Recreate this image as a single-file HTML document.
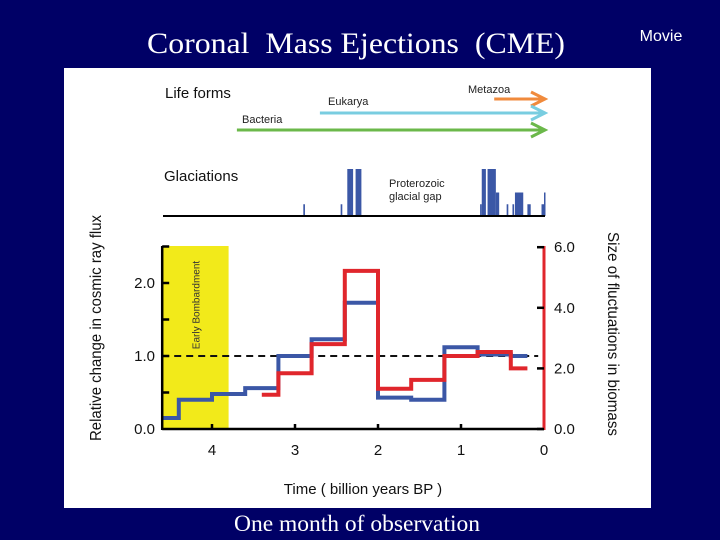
<!DOCTYPE html>
<html><head><meta charset="utf-8"><style>
html,body{margin:0;padding:0;background:#000066;width:720px;height:540px;overflow:hidden}
svg{display:block}
</style></head><body>
<svg width="720" height="540" viewBox="0 0 720 540" xmlns="http://www.w3.org/2000/svg">
<rect x="0" y="0" width="720" height="540" fill="#000066"/>
<text x="356" y="53" text-anchor="middle" xml:space="preserve" font-family="Liberation Serif, serif" font-size="30" fill="#fff" textLength="418" lengthAdjust="spacingAndGlyphs">Coronal  Mass Ejections  (CME)</text>
<text x="661" y="41" text-anchor="middle" font-family="Liberation Sans, sans-serif" font-size="16" fill="#fff">Movie</text>
<rect x="64" y="68" width="587" height="440" fill="#fff"/>
<text x="357" y="531" text-anchor="middle" font-family="Liberation Serif, serif" font-size="23.5" fill="#fff">One month of observation</text>
<g id="toppanel"></g>
<g id="chart"></g>
</svg>
<script>
// Time axis (billion years BP)
const xTicks = [4, 3, 2, 1, 0];
const leftTicks = ["0.0", "1.0", "2.0"];
const leftTickVals = [0, 1, 2];
const rightTickVals = [0, 2, 4, 6];
const rightTicks = ["0.0", "2.0", "4.0", "6.0"];
// Blue: relative change in cosmic ray flux (step edges and values)
const blueEdges = [4.6, 4.4, 4.0, 3.6, 3.2, 2.8, 2.4, 2.0, 1.6, 1.2, 0.8, 0.4, 0.2];
const blueVals = [0.15, 0.40, 0.48, 0.56, 1.0, 1.23, 1.73, 0.43, 0.40, 1.12, 1.02, 1.0];
// Red: size of fluctuations in biomass
const redEdges = [3.4, 3.2, 2.8, 2.4, 2.0, 1.6, 1.2, 0.8, 0.4, 0.2];
const redVals = [1.13, 1.84, 2.8, 5.22, 1.33, 1.62, 2.41, 2.54, 2.0];
// Life forms arrows: start time
const lifeNames = ["Metazoa", "Eukarya", "Bacteria"];
const lifeStarts = [0.6, 2.7, 3.7];
const lifeColors = ["#f08a3c", "#79cde0", "#6bb84a"];
// Glaciation bars: [start, end] time and height (relative 0-1)
const glacStart = [2.9, 2.45, 2.37, 2.27, 0.77, 0.75, 0.68, 0.58, 0.45, 0.38, 0.35, 0.2, 0.03, 0.0];
const glacEnd   = [2.88, 2.43, 2.3, 2.2, 0.75, 0.7, 0.58, 0.54, 0.43, 0.36, 0.25, 0.16, 0.0, -0.01];
const glacH     = [0.25, 0.25, 1, 1, 0.25, 1, 1, 0.5, 0.25, 0.25, 0.5, 0.25, 0.25, 0.5];

const NS = "http://www.w3.org/2000/svg";
const X = t => 544 - t * 83;
const YL = v => 429 - v * 73;
const YR = v => 429 - v * 30.3;
function mk(parent, tag, attrs, text) {
  const e = document.createElementNS(NS, tag);
  for (const k in attrs) e.setAttribute(k, attrs[k]);
  if (text !== undefined) e.textContent = text;
  parent.appendChild(e);
  return e;
}
const topPanel = document.getElementById('toppanel');
const ch = document.getElementById('chart');
const sans = "Liberation Sans, DejaVu Sans, sans-serif";

// Top panel
let e = mk(topPanel, 'text', {x: 165, y: 98, 'font-family': sans, 'font-size': 15, fill: '#111'}, 'Life forms');


const arrowY = [99, 113, 130];
const labelPos = [[468, 93], [328, 105], [242, 123]];
lifeNames.forEach((n, i) => {
  const x1 = X(lifeStarts[i]), x2 = 545, y = arrowY[i];
  const g = mk(topPanel, 'g', {});
  
  
  mk(g, 'line', {x1, y1: y, x2: x2 - 2, y2: y, stroke: lifeColors[i], 'stroke-width': 3});
  mk(g, 'polyline', {points: `${x2-14},${y-7} ${x2},${y} ${x2-14},${y+7}`, fill: 'none', stroke: lifeColors[i], 'stroke-width': 3});
  const t = mk(topPanel, 'text', {x: labelPos[i][0], y: labelPos[i][1], 'font-family': sans, 'font-size': 11, fill: '#222'}, n);
  
  
});
e = mk(topPanel, 'text', {x: 164, y: 181, 'font-family': sans, 'font-size': 15, fill: '#111'}, 'Glaciations');


e = mk(topPanel, 'text', {x: 389, y: 187, 'font-family': sans, 'font-size': 11, fill: '#222'}, 'Proterozoic');


e = mk(topPanel, 'text', {x: 389, y: 200, 'font-family': sans, 'font-size': 11, fill: '#222'}, 'glacial gap');


glacStart.forEach((s, i) => {
  const x1 = X(s), x2 = X(glacEnd[i]);
  const h = glacH[i] * 47;
  const r = mk(topPanel, 'rect', {x: x1, y: 216 - h, width: Math.max(1.5, x2 - x1), height: h, fill: '#3b57a6'});
  
  
});
e = mk(topPanel, 'line', {x1: 163, y1: 216, x2: 545, y2: 216, stroke: '#000', 'stroke-width': 2});



// Chart
e = mk(ch, 'rect', {x: X(4.6), y: 246, width: X(3.8) - X(4.6), height: 183, fill: '#f2ea1a'});


e = mk(ch, 'text', {x: 0, y: 0, transform: `translate(${(X(4.6)+X(3.8))/2+4},305) rotate(-90)`, 'text-anchor': 'middle', 'font-family': sans, 'font-size': 10, fill: '#333'}, 'Early Bombardment');


e = mk(ch, 'line', {x1: X(4.6), y1: YL(1), x2: X(0.07), y2: YL(1), stroke: '#111', 'stroke-width': 2, 'stroke-dasharray': '7,5'});



function stepPath(edges, vals, Y) {
  let d = `M${X(edges[0])},${Y(vals[0])}`;
  for (let i = 0; i < vals.length; i++) {
    d += ` L${X(edges[i])},${Y(vals[i])} L${X(edges[i+1])},${Y(vals[i])}`;
  }
  return d;
}
e = mk(ch, 'path', {d: stepPath(blueEdges, blueVals, YL), fill: 'none', stroke: '#3b57a6', 'stroke-width': 4});


e = mk(ch, 'path', {d: stepPath(redEdges, redVals, YR), fill: 'none', stroke: '#e0262c', 'stroke-width': 4});



// Axes
e = mk(ch, 'line', {x1: X(4.6), y1: 246, x2: X(4.6), y2: 430, stroke: '#000', 'stroke-width': 2.5});


e = mk(ch, 'line', {x1: X(4.6), y1: 429, x2: X(0), y2: 429, stroke: '#000', 'stroke-width': 2.5});


e = mk(ch, 'line', {x1: X(0), y1: 246, x2: X(0), y2: 430, stroke: '#e0262c', 'stroke-width': 3});


[0.5, 1, 1.5, 2, 2.5].forEach(v => {
  const t = mk(ch, 'line', {x1: X(4.6), y1: YL(v), x2: X(4.6) + 7, y2: YL(v), stroke: '#000', 'stroke-width': 2.5});
  
  
});
leftTickVals.forEach((v, i) => {
  const t = mk(ch, 'text', {x: 155, y: YL(v) + 5, 'text-anchor': 'end', 'font-family': sans, 'font-size': 15, fill: '#111'}, leftTicks[i]);
  
  
});
rightTickVals.forEach((v, i) => {
  const l = mk(ch, 'line', {x1: X(0) - 7, y1: YR(v), x2: X(0), y2: YR(v), stroke: '#000', 'stroke-width': 2.5});
  
  
  const t = mk(ch, 'text', {x: 554, y: YR(v) + 5, 'font-family': sans, 'font-size': 15, fill: '#111'}, rightTicks[i]);
  
  
});
xTicks.forEach(v => {
  if (v > 0) {
    const l = mk(ch, 'line', {x1: X(v), y1: 429, x2: X(v), y2: 424, stroke: '#000', 'stroke-width': 2.5});
    
    
  }
  const t = mk(ch, 'text', {x: X(v), y: 455, 'text-anchor': 'middle', 'font-family': sans, 'font-size': 15, fill: '#111'}, String(v));
  
  
});
e = mk(ch, 'text', {x: 363, y: 494, 'text-anchor': 'middle', 'font-family': sans, 'font-size': 15, fill: '#111'}, 'Time ( billion years  BP )');


e = mk(ch, 'text', {x: 0, y: 0, transform: 'translate(101,328) rotate(-90)', 'text-anchor': 'middle', 'font-family': sans, 'font-size': 15.5, fill: '#111', textLength: 226, lengthAdjust: 'spacingAndGlyphs'}, 'Relative change in cosmic ray flux');


e = mk(ch, 'text', {x: 0, y: 0, transform: 'translate(608,334) rotate(90)', 'text-anchor': 'middle', 'font-family': sans, 'font-size': 15.5, fill: '#111', textLength: 204, lengthAdjust: 'spacingAndGlyphs'}, 'Size of fluctuations in biomass');


</script>
</body></html>
